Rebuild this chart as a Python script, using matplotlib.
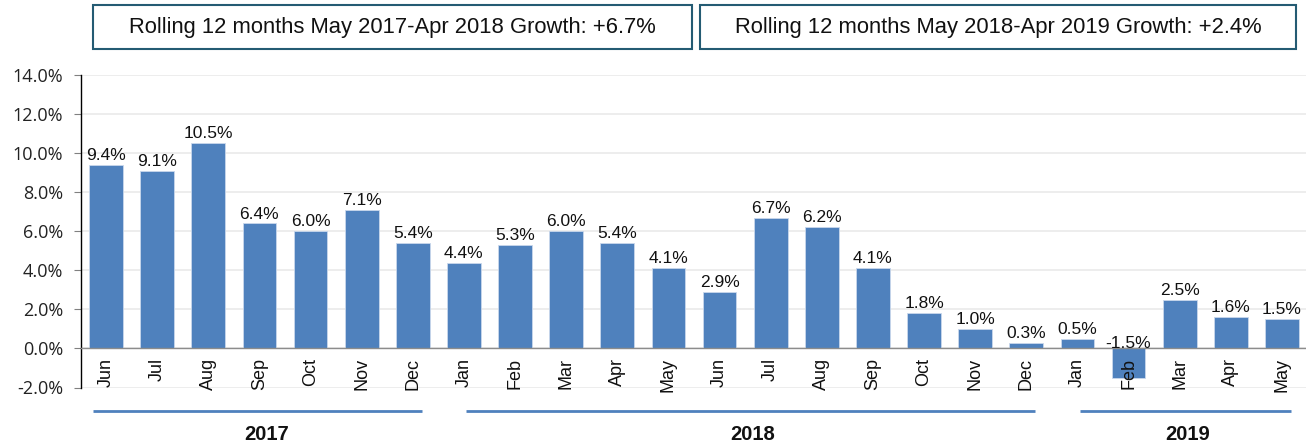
import matplotlib
matplotlib.use("Agg")
import matplotlib.pyplot as plt
from matplotlib.patches import Rectangle
from matplotlib.ticker import FuncFormatter

plt.rcParams.update({
    "font.family": ["Liberation Sans", "DejaVu Sans"],
})

months = ["Jun", "Jul", "Aug", "Sep", "Oct", "Nov", "Dec",
          "Jan", "Feb", "Mar", "Apr", "May", "Jun", "Jul", "Aug", "Sep", "Oct", "Nov", "Dec",
          "Jan", "Feb", "Mar", "Apr", "May"]
growth = [9.4, 9.1, 10.5, 6.4, 6.0, 7.1, 5.4,
          4.4, 5.3, 6.0, 5.4, 4.1, 2.9, 6.7, 6.2, 4.1, 1.8, 1.0, 0.3,
          0.5, -1.5, 2.5, 1.6, 1.5]
years = ["2017", "2018", "2019"]
year_counts = [7, 12, 5]
headlines = ["Rolling 12 months May 2017-Apr 2018 Growth: +6.7%",
             "Rolling 12 months May 2018-Apr 2019 Growth: +2.4%"]

BAR = "#4F81BD"
W, H = 1306, 446

fig = plt.figure(figsize=(W / 100, H / 100), dpi=100)
ax = fig.add_axes([80.5 / W, 1 - 387.5 / H, 1227 / W, 312.5 / H])

x = list(range(len(growth)))
ax.bar(x, growth, width=0.66, color=BAR, edgecolor="#c9d8ec", linewidth=0.6, zorder=2)
ax.set_xlim(-0.5, len(growth) - 0.5)
ax.set_ylim(-2, 14)
ax.set_yticks(range(-2, 15, 2))
ax.yaxis.set_major_formatter(FuncFormatter(lambda v, p: f"{v:.1f}%"))
ax.tick_params(axis="y", length=5, width=0.8, color="#808080", pad=7.5,
               labelsize=13)
for lab in ax.get_yticklabels():
    lab.set_fontfamily(["Open Sans", "DejaVu Sans"])
    lab.set_color("#222222")
ax.set_xticks([])
ax.grid(axis="y", color="#ececec", linewidth=1.3, zorder=0)
ax.axhline(0, color="#8c8c8c", linewidth=1.0, zorder=3)
for s in ["top", "right", "bottom"]:
    ax.spines[s].set_visible(False)
ax.spines["left"].set_color("black")
ax.spines["left"].set_linewidth(1.0)

# month labels hang from the zero line
for i, m in enumerate(months):
    ax.annotate(m, xy=(i, 0), xytext=(0, -7), textcoords="offset points",
                rotation=90, ha="center", va="top", fontsize=13, color="#111111",
                zorder=4)

# value labels
for i, v in enumerate(growth):
    ax.annotate(f"{v:.1f}%", xy=(i, max(v, 0)),
                xytext=(0, 3.5 if v >= 0 else 0.3), textcoords="offset points",
                ha="center", va="baseline", fontsize=12.5, color="#111111", zorder=4)

# year bands under the months
start = 0
for k, (yr, n) in enumerate(zip(years, year_counts)):
    end = start + n - 1
    lo = start - 0.25 if k == 0 else start + 0.05
    hi = min(end + 0.17, len(growth) - 0.65)
    ax.plot([lo, hi], [-0.0752, -0.0752], transform=ax.get_xaxis_transform(),
            color=BAR, linewidth=2, clip_on=False, solid_capstyle="butt")
    ax.text((start + end) / 2 + 0.15, -0.1505, yr, transform=ax.get_xaxis_transform(),
            ha="center", va="center", fontsize=14.5, fontweight="bold", color="#111111")
    start = end + 1

# headline boxes
boxes = [(93, 692), (700, 1296)]
for (x0, x1), txt in zip(boxes, headlines):
    fig.add_artist(Rectangle((x0 / W, 1 - 49 / H), (x1 - x0) / W, 44 / H,
                             transform=fig.transFigure, facecolor="white",
                             edgecolor="#245b73", linewidth=1.5))
    fig.text((x0 + x1) / 2 / W, 1 - 27.5 / H, txt, ha="center", va="center",
             fontsize=15.8, color="#111111")

fig.savefig("out.png", dpi=100)
